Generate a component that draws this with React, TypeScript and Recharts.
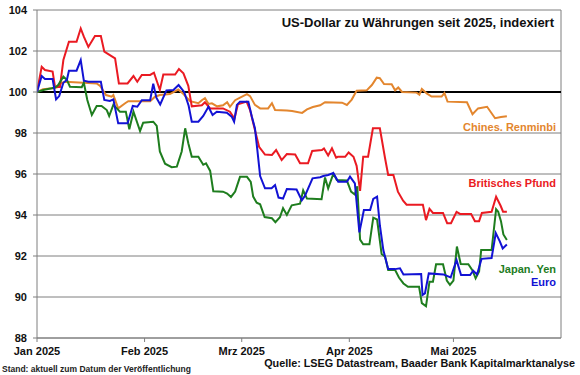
import { LineChart, Line, XAxis, YAxis, CartesianGrid, ReferenceLine } from 'recharts';

// x = days since 1 Jan 2025, y = index (start 2025 = 100)
const monthTicks = [0, 31, 59, 90, 120];
const monthLabels = ['Jan 2025', 'Feb 2025', 'Mrz 2025', 'Apr 2025', 'Mai 2025'];
const yTicks = [88, 90, 92, 94, 96, 98, 100, 102, 104];
const X_END = 151;

const cny: [number, number][] = [
  [0, 100], [1.7, 100.13], [4.6, 100.18], [5.8, 100.23], [7.1, 100.45], [8.1, 100.5], [13.3, 100.45],
  [17.2, 100.42], [18.2, 100.29], [19.9, 99.85], [21.5, 99.77], [22.0, 99.85], [23.4, 99.2], [25.4, 99.45],
  [26.3, 99.55], [32.6, 99.55], [34.0, 99.77], [35.4, 99.85], [38.3, 99.9], [40.7, 100.12], [42.2, 99.9],
  [44.1, 99.55], [46.5, 99.45], [47.5, 99.6], [48.4, 99.7], [49.4, 99.42], [50.4, 99.45], [51.9, 99.3],
  [53.6, 99.35], [54.8, 99.5], [55.6, 99.28], [57.1, 99.6], [58.8, 99.75], [60.5, 99.9], [61.4, 99.8],
  [62.8, 99.37], [64.3, 99.2], [66.6, 99.2], [67.7, 99.45], [68.6, 99.12], [72.0, 99.1], [73.5, 99.07],
  [76.4, 98.98], [77.8, 99.15], [79.5, 99.27], [81.6, 99.35], [83.0, 99.5], [87.9, 99.48], [89.3, 99.37],
  [90.7, 99.63], [92.1, 100.06], [95.0, 100.08], [96.5, 100.34], [97.9, 100.7], [98.8, 100.67],
  [100.0, 100.39], [102.2, 100.38], [103.2, 100.08], [104.1, 100.22], [105.2, 100.0], [109.4, 99.97],
  [110.2, 99.87], [110.9, 100.15], [112.3, 99.93], [113.7, 99.78], [116.6, 99.78], [117.4, 99.95],
  [118.3, 99.53], [123.9, 99.5], [125.5, 98.92], [127.1, 99.2], [129.7, 99.28], [132.0, 98.72],
  [133.7, 98.78], [135.4, 98.82],
];

const gbp: [number, number][] = [
  [0, 100], [1.35, 101.23], [2.3, 101.07], [4.5, 101.0], [5.2, 100.24], [6.6, 100.24], [7.6, 101.56],
  [9.2, 102.45], [11.4, 102.45], [12.6, 103.1], [13.5, 102.7], [14.8, 102.2], [16.7, 102.73], [18.4, 102.73],
  [19.4, 101.97], [21.0, 101.8], [22.5, 101.64], [23.6, 100.42], [26.1, 100.42], [27.8, 100.78], [28.9, 100.5],
  [30.2, 100.83], [32.6, 100.83], [33.7, 100.94], [35.4, 100.1], [36.4, 100.85], [39.8, 100.85], [40.9, 101.12],
  [42.2, 100.91], [43.6, 100.3], [44.6, 99.3], [47.5, 99.35], [48.4, 99.5], [49.9, 99.2], [53.6, 99.2],
  [55.6, 99.04], [56.9, 98.7], [57.9, 99.4], [60.4, 99.53], [61.4, 99.12], [62.8, 98.15], [64.0, 97.33],
  [65.7, 96.95], [67.7, 96.93], [68.9, 97.17], [70.5, 96.68], [72.0, 96.97], [74.4, 96.95], [75.8, 96.52],
  [78.1, 96.52], [79.3, 97.12], [82.1, 97.17], [82.7, 97.25], [83.9, 96.9], [85.0, 97.25], [86.2, 96.8],
  [86.7, 96.84], [88.8, 96.84], [89.8, 97.05], [91.2, 96.84], [92.1, 96.4], [93.1, 95.18], [94.0, 96.84],
  [95.4, 96.84], [96.8, 98.23], [98.8, 98.23], [100.3, 96.77], [101.2, 95.95], [102.7, 95.95], [104.0, 95.14],
  [105.5, 94.7], [106.5, 94.5], [111.2, 94.5], [112.1, 93.75], [113.1, 94.3], [114.1, 94.1], [117.0, 94.1],
  [118.2, 93.6], [119.3, 93.6], [120.9, 94.15], [121.9, 94.05], [125.1, 94.05], [126.2, 93.7], [127.4, 93.7],
  [128.2, 94.1], [131.0, 94.16], [132.3, 94.89], [133.6, 94.45], [134.3, 94.16], [135.4, 94.16],
];

const jpy: [number, number][] = [
  [0, 100], [1.8, 100.1], [4.2, 100.18], [5.2, 100.22], [6.1, 100.34], [7.6, 100.75], [8.6, 100.59],
  [9.5, 100.26], [12.9, 100.23], [13.5, 100.45], [14.5, 99.61], [15.8, 98.88], [17.2, 99.32], [18.6, 99.32],
  [20.1, 99.12], [20.8, 98.83], [22.0, 99.37], [23.0, 99.2], [23.9, 99.04], [25.6, 99.04], [26.6, 98.18],
  [27.8, 99.04], [29.7, 98.1], [30.6, 98.5], [33.5, 98.55], [34.5, 98.35], [35.4, 97.1], [36.9, 96.5],
  [38.8, 96.33], [40.3, 96.36], [41.7, 97.1], [42.7, 98.23], [43.6, 97.5], [44.6, 96.84], [46.5, 96.84],
  [47.9, 96.45], [48.7, 96.52], [49.9, 96.15], [50.8, 95.16], [53.6, 95.14], [54.8, 95.05], [55.9, 94.88],
  [57.1, 95.14], [58.5, 95.86], [60.5, 95.86], [61.6, 95.62], [62.3, 94.9], [63.3, 94.6], [64.3, 94.52],
  [65.6, 93.9], [67.7, 93.84], [68.7, 93.65], [70.0, 93.89], [70.9, 94.33], [72.0, 94.0], [73.4, 94.47],
  [75.8, 94.55], [76.7, 95.2], [77.8, 94.8], [82.0, 94.77], [83.0, 95.83], [83.9, 95.3], [85.4, 96.02],
  [86.4, 95.71], [89.3, 95.68], [90.5, 95.14], [91.6, 95.0], [92.3, 95.4], [93.1, 92.8], [94.0, 92.57],
  [95.8, 92.57], [96.9, 93.87], [98.0, 93.78], [99.3, 92.1], [100.3, 91.97], [101.2, 91.32], [103.2, 91.32],
  [104.3, 90.95], [105.6, 90.66], [106.9, 90.5], [110.1, 90.5], [110.9, 89.7], [112.1, 89.55], [113.1, 90.75],
  [114.1, 90.75], [115.0, 91.6], [117.0, 91.6], [118.1, 90.8], [119.0, 90.59], [120.0, 90.8], [121.0, 92.46],
  [122.1, 91.61], [124.3, 91.6], [125.5, 91.3], [126.4, 90.91], [127.4, 91.24], [128.0, 92.29], [131.0, 92.29],
  [132.3, 94.28], [132.9, 94.16], [133.7, 93.7], [134.4, 93.05], [135.4, 92.78],
];

const eur: [number, number][] = [
  [0, 100], [1.35, 100.78], [2.3, 100.63], [4.5, 100.63], [5.5, 99.64], [6.4, 99.8], [7.6, 100.45],
  [8.6, 100.59], [9.2, 101.04], [11.4, 101.04], [12.6, 101.56], [13.5, 100.55], [14.8, 100.5], [18.4, 100.5],
  [19.4, 99.61], [21.0, 99.56], [22.0, 99.64], [23.4, 98.47], [26.1, 98.47], [27.6, 99.32], [28.9, 99.28],
  [30.2, 99.6], [32.6, 99.6], [33.5, 100.41], [34.4, 99.72], [35.5, 99.39], [37.3, 100.08], [39.3, 100.1],
  [40.8, 100.34], [42.4, 100.0], [43.7, 99.33], [44.6, 98.55], [46.5, 98.55], [47.9, 98.83], [49.4, 99.28],
  [50.6, 98.88], [51.8, 99.04], [54.7, 98.99], [56.1, 98.8], [56.8, 98.55], [57.6, 99.37], [58.5, 99.53],
  [60.9, 99.53], [61.9, 98.8], [62.8, 98.23], [63.5, 97.17], [64.3, 95.9], [65.7, 95.3], [67.6, 95.3],
  [68.6, 95.46], [69.6, 94.85], [70.9, 94.8], [72.0, 95.27], [74.8, 95.24], [76.3, 94.72], [77.2, 94.93],
  [79.4, 95.79], [81.6, 95.84], [82.5, 95.9], [83.9, 95.95], [85.4, 96.05], [86.8, 95.62], [89.3, 95.62],
  [90.2, 95.87], [91.6, 95.54], [92.9, 93.15], [94.2, 94.24], [96.0, 94.24], [96.9, 94.78], [98.0, 94.89],
  [98.8, 93.5], [99.8, 92.29], [101.2, 91.36], [103.2, 91.36], [104.6, 91.4], [105.6, 91.1], [110.7, 91.12],
  [111.1, 90.1], [111.8, 90.18], [112.9, 91.15], [117.1, 91.1], [119.2, 90.95], [120.9, 91.8], [122.2, 91.07],
  [124.8, 91.07], [125.7, 91.28], [126.8, 91.1], [128.1, 91.86], [131.0, 91.9], [132.2, 93.12], [133.4, 92.7],
  [134.2, 92.37], [135.4, 92.56],
];

const series = [
  { key: 'cny', name: 'Chines. Renminbi', color: '#E3862E', points: cny },
  { key: 'gbp', name: 'Britisches Pfund', color: '#EA1A22', points: gbp },
  { key: 'jpy', name: 'Japan. Yen', color: '#1E7D1E', points: jpy },
  { key: 'eur', name: 'Euro', color: '#1212D4', points: eur },
];

const FONT = '"Liberation Sans", Arial, sans-serif';
const tickStyle = { fontFamily: FONT, fontSize: 11, fontWeight: 700, fill: '#111' };

export default function App() {
  return (
    <div style={{ position: 'absolute', left: 0, top: 0, width: 580, height: 375, background: '#fff', fontFamily: FONT }}>
      <LineChart width={580} height={375} margin={{ top: 10, right: 19, left: 0, bottom: 12 }}>
        <CartesianGrid horizontal vertical={false} stroke="#7f7f7f" strokeWidth={1} />
        <XAxis
          type="number"
          dataKey="d"
          domain={[0, X_END]}
          ticks={monthTicks}
          tickFormatter={(v: number) => monthLabels[monthTicks.indexOf(v)] ?? ''}
          height={25}
          tickSize={4}
          tickMargin={5}
          stroke="#7f7f7f"
          tick={tickStyle}
          allowDataOverflow
        />
        <YAxis
          type="number"
          domain={[88, 104]}
          ticks={yTicks}
          width={37}
          tickSize={4}
          tickMargin={6}
          stroke="#7f7f7f"
          tick={tickStyle}
          allowDataOverflow
        />
        <ReferenceLine x={X_END} stroke="#7f7f7f" strokeWidth={1} />
        <ReferenceLine y={100} stroke="#000" strokeWidth={2} />
        {series.map((s) => (
          <Line
            key={s.key}
            data={s.points.map(([d, v]) => ({ d, v }))}
            dataKey="v"
            type="linear"
            stroke={s.color}
            strokeWidth={2}
            dot={false}
            isAnimationActive={false}
          />
        ))}
      </LineChart>
      <svg width={580} height={375} style={{ position: 'absolute', left: 0, top: 0, pointerEvents: 'none' }}>
        <text x={554} y={27} textAnchor="end" fontSize={13} fontWeight={700} fill="#111" fontFamily={FONT}>
          US-Dollar zu Währungen seit 2025, indexiert
        </text>
        <text x={556} y={131} textAnchor="end" fontSize={11} fontWeight={700} fill={series[0].color} fontFamily={FONT}>
          {series[0].name}
        </text>
        <text x={556} y={187} textAnchor="end" fontSize={11} fontWeight={700} fill={series[1].color} fontFamily={FONT}>
          {series[1].name}
        </text>
        <text x={556} y={273} textAnchor="end" fontSize={11} fontWeight={700} fill={series[2].color} fontFamily={FONT}>
          {series[2].name}
        </text>
        <text x={556} y={285.5} textAnchor="end" fontSize={11} fontWeight={700} fill={series[3].color} fontFamily={FONT}>
          {series[3].name}
        </text>
        <text x={2} y={372} fontSize={8.5} fontWeight={700} fill="#222" fontFamily={FONT}>
          Stand: aktuell zum Datum der Veröffentlichung
        </text>
        <text x={575} y={367} textAnchor="end" fontSize={10.8} fontWeight={700} fill="#111" fontFamily={FONT}>
          Quelle: LSEG Datastream, Baader Bank Kapitalmarktanalyse
        </text>
      </svg>
    </div>
  );
}
